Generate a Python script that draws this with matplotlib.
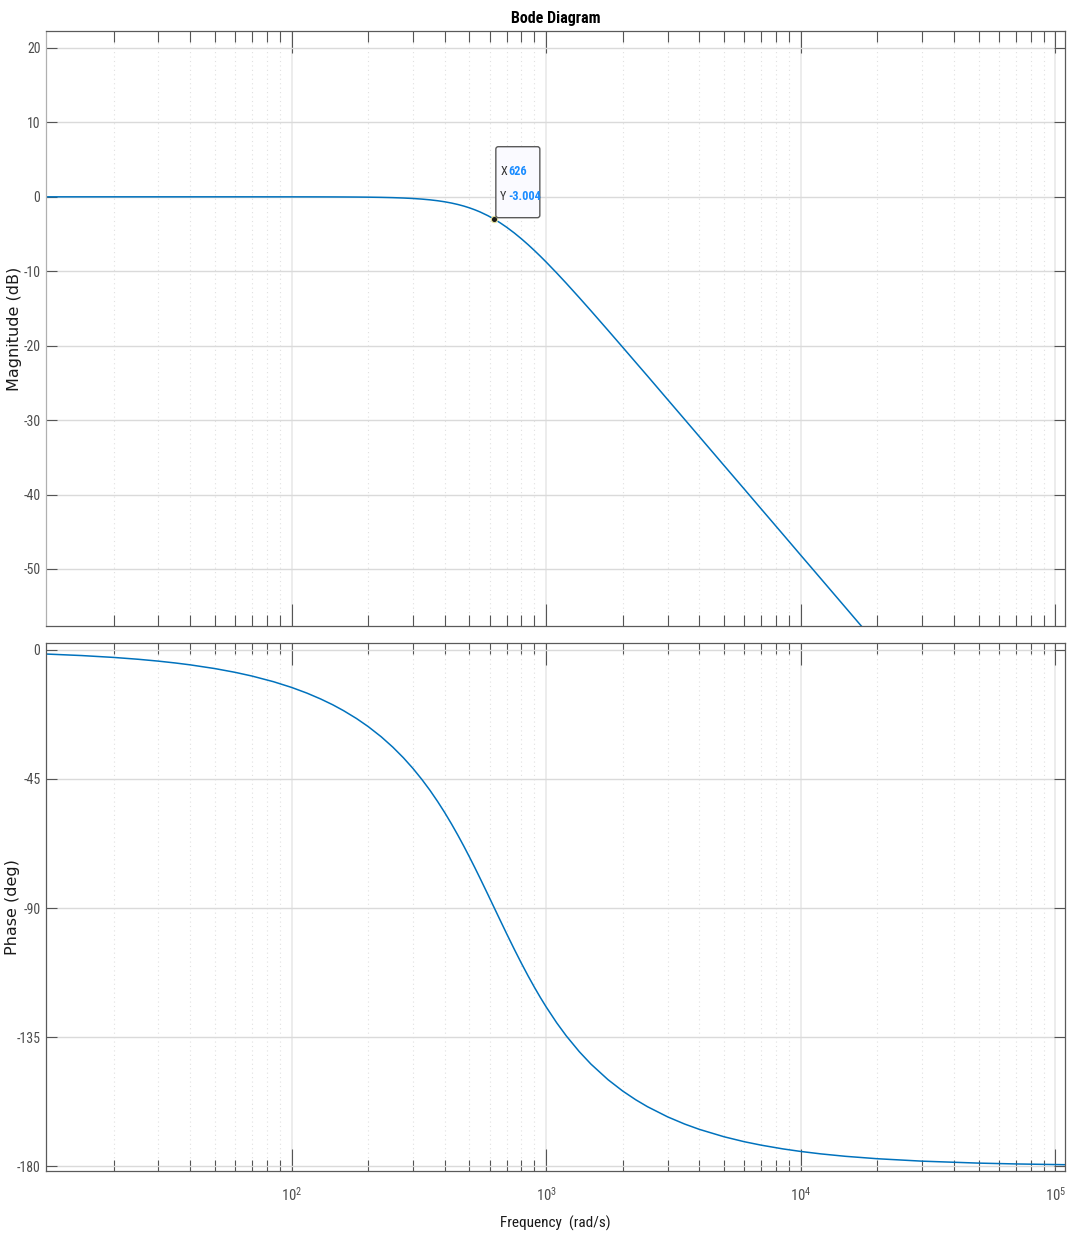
import matplotlib
matplotlib.use('Agg')
import matplotlib.pyplot as plt
import numpy as np
import matplotlib.transforms as mtrans
from matplotlib.ticker import LogLocator, FixedLocator, NullFormatter, NullLocator, LogFormatterSciNotation
from matplotlib.patches import FancyBboxPatch

# ---- data ----
freq = [10.85, 15, 20, 25, 30, 35, 40, 50, 60, 70, 85, 100, 115, 130, 145, 160,
        180, 200, 225, 250, 275, 300, 325, 350, 375, 400, 425, 450, 475, 500,
        525, 550, 590, 626, 660, 700, 750, 800, 850, 900, 950, 1000, 1100, 1200,
        1350, 1500, 1750, 2000, 2250, 2500, 3000, 3500, 4000, 5000, 6000, 7000,
        8500, 10000, 12000, 15000, 20000, 30000, 50000, 70000, 109200]
mag_db = [0.0, 0.0, 0.0, 0.0, 0.0, 0.0, 0.0, 0.0, 0.0, -0.001, -0.002, -0.003,
          -0.005, -0.008, -0.013, -0.019, -0.030, -0.045, -0.072, -0.109, -0.159,
          -0.223, -0.305, -0.405, -0.526, -0.670, -0.837, -1.028, -1.243, -1.483,
          -1.746, -2.029, -2.526, -3.004, -3.494, -4.089, -4.858, -5.644, -6.434,
          -7.220, -7.996, -8.756, -10.226, -11.614, -13.547, -15.31, -17.93,
          -20.22, -22.25, -24.06, -27.23, -29.90, -32.22, -36.10, -39.26, -41.94,
          -45.31, -48.14, -51.30, -55.18, -60.18, -67.22, -76.10, -81.94, -89.67]
phase_deg = [-1.404, -1.942, -2.590, -3.238, -3.886, -4.535, -5.185, -6.485,
             -7.790, -9.097, -11.07, -13.05, -15.05, -17.07, -19.09, -21.15,
             -23.91, -26.71, -30.27, -33.90, -37.59, -41.34, -45.15, -48.99,
             -52.88, -56.78, -60.69, -64.58, -68.43, -72.23, -75.96, -79.60,
             -85.21, -90.0, -94.28, -99.00, -104.41, -109.31, -113.72, -117.69,
             -121.27, -124.48, -130.03, -134.61, -140.12, -144.45, -149.88,
             -153.86, -156.90, -159.30, -162.85, -165.36, -167.22, -169.80,
             -171.52, -172.73, -174.02, -174.92, -175.77, -176.62, -177.46,
             -178.31, -178.99, -179.28, -179.54]
mag_ticks = [-50, -40, -30, -20, -10, 0, 10, 20]
phase_ticks = [-180, -135, -90, -45, 0]
tip_x = 626
tip_y = -3.004

# ---- style ----
NARROW = ['Roboto Condensed', 'Liberation Sans Narrow', 'DejaVu Sans']
plt.rcParams['font.family'] = NARROW
plt.rcParams['font.stretch'] = 'condensed'
plt.rcParams['axes.unicode_minus'] = False

W, H = 1067, 1239
fig = plt.figure(figsize=(W / 100, H / 100), dpi=100)
ax1 = fig.add_axes([46 / W, 1 - 626 / H, 1019 / W, 595 / H])
ax2 = fig.add_axes([46 / W, 1 - 1171 / H, 1019 / W, 528 / H])

line_color = '#0072BD'
tick_col = '#555555'
lab_col = '#4d4d4d'

for ax in (ax1, ax2):
    ax.set_xscale('log')
    ax.set_xlim(10.85, 1.092e5)
    ax.xaxis.set_major_locator(LogLocator(base=10, numticks=100))
    ax.xaxis.set_minor_locator(LogLocator(base=10, subs=np.arange(2, 10), numticks=100))
    ax.xaxis.set_minor_formatter(NullFormatter())
    ax.yaxis.set_minor_locator(NullLocator())
    ax.grid(True, which='major', axis='y', color='#dadada', lw=1.0)
    ax.grid(True, which='major', axis='x', color='#ececec', lw=1.4)
    ax.grid(True, which='minor', axis='x', color='#e0e0e0', ls=(0, (1, 3)), lw=0.8)
    ax.set_axisbelow(True)
    ax.tick_params(axis='both', which='both', direction='in', top=True, right=True,
                   color=tick_col, labelcolor=lab_col, width=0.8, labelsize=10)
    ax.tick_params(axis='x', which='major', length=15.8, labelsize=10.5)
    ax.tick_params(axis='x', which='minor', length=7.9)
    ax.tick_params(axis='y', which='major', length=7.9, pad=4)
    for s in ax.spines.values():
        s.set_color('#5a5a5a')
        s.set_linewidth(0.9)
    ax.set_facecolor('white')

ax1.spines['left'].set_color('#b0b0b0')

# magnitude
ax1.plot(freq, mag_db, color=line_color, lw=1.1)
ax1.set_ylim(-57.66, 22.28)
ax1.yaxis.set_major_locator(FixedLocator(mag_ticks))
ax1.xaxis.set_major_formatter(NullFormatter())
ax1.set_ylabel('Magnitude (dB)', family='DejaVu Sans', fontstretch='normal',
               fontsize=11.5, color='#1a1a1a')
ax1.yaxis.set_label_coords((22 - 46) / 1019, 0.5)
ax1.set_title('Bode Diagram', fontsize=11.5, fontweight='bold', color='black', pad=6)

# phase
ax2.plot(freq, phase_deg, color=line_color, lw=1.1)
ax2.set_ylim(-181.74, 2.44)
ax2.yaxis.set_major_locator(FixedLocator(phase_ticks))
ax2.xaxis.set_major_formatter(LogFormatterSciNotation())
ax2.tick_params(axis='x', which='major', pad=11)
ax2.set_ylabel('Phase (deg)', family='DejaVu Sans', fontstretch='normal',
               fontsize=11.5, color='#1a1a1a')
ax2.yaxis.set_label_coords((20 - 46) / 1019, 0.5)
ax2.set_xlabel('Frequency  (rad/s)', fontsize=11, color='#1a1a1a', labelpad=8)

# data tip
ax1.plot([tip_x], [tip_y], 'o', ms=4.5, mfc='#1a1a1a', mec='#e6e29a', mew=0.8, zorder=5)
px, py = ax1.transData.transform((tip_x, tip_y))
ident = mtrans.IdentityTransform()
box = FancyBboxPatch((px + 1.5, py + 1.5), 44, 71, boxstyle='round,pad=0,rounding_size=2.5',
                     transform=ident, fc='#fafaff', ec='#5a5a5a', lw=1.0, zorder=6)
fig.add_artist(box)
tip_blue = '#1a8cff'
fs_tip = 8.8
fig.text(px + 6, py + 48, 'X', transform=ident, va='center', ha='left',
         fontsize=fs_tip, color='#333333', zorder=7)
fig.text(px + 14.5, py + 48, f'{tip_x}', transform=ident, va='center', ha='left',
         fontsize=fs_tip, fontweight='bold', color=tip_blue, zorder=7)
fig.text(px + 6, py + 22.5, 'Y', transform=ident, va='center', ha='left',
         fontsize=fs_tip, color='#333333', zorder=7)
fig.text(px + 13.5, py + 22.5, f'{tip_y:.3f}', transform=ident, va='center', ha='left',
         fontsize=fs_tip, fontweight='bold', color=tip_blue, zorder=7)

fig.savefig('out.png', dpi=100, facecolor='white')
